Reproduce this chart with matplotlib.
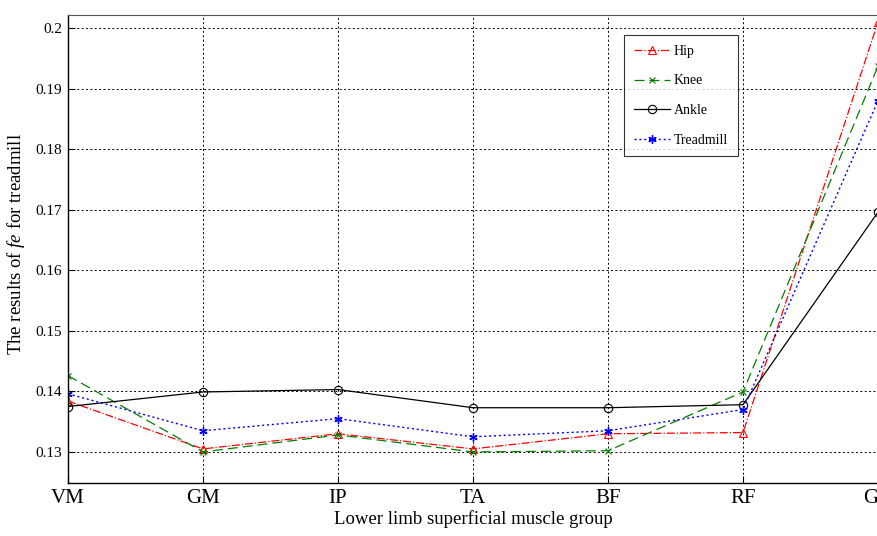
import numpy as np
import matplotlib.pyplot as plt

# muscle groups on the x axis
muscles = ['VM', 'GM', 'IP', 'TA', 'BF', 'RF', 'GC']

# fe values
hip = [0.1384, 0.1305, 0.1330, 0.1305, 0.1330, 0.1332, 0.2010]
knee = [0.1426, 0.1300, 0.1328, 0.1300, 0.1302, 0.1399, 0.1937]
ankle = [0.1375, 0.1399, 0.1403, 0.1373, 0.1373, 0.1378, 0.1696]
treadmill = [0.1396, 0.1335, 0.1355, 0.1325, 0.1335, 0.1370, 0.1880]

yticks = [0.13, 0.14, 0.15, 0.16, 0.17, 0.18, 0.19, 0.2]
ytick_labels = ['0.13', '0.14', '0.15', '0.16', '0.17', '0.18', '0.19', '0.2']

plt.rcParams['font.family'] = ['Liberation Serif', 'DejaVu Serif']
plt.rcParams['mathtext.fontset'] = 'custom'
plt.rcParams['mathtext.it'] = 'Liberation Serif:italic'
plt.rcParams['mathtext.rm'] = 'Liberation Serif'

fig = plt.figure(figsize=(8.77, 5.36), dpi=100)
ax = fig.add_axes([68 / 877, 53 / 536, 810 / 877, 468 / 536])

x = np.arange(len(muscles))
ax.plot(x, hip, color='red', linestyle='-.', linewidth=0.9, marker='^',
        markersize=6, markerfacecolor='none', markeredgewidth=0.8, label='Hip')
ax.plot(x, knee, color='green', linestyle=(0, (8, 4)), linewidth=0.9, marker='x',
        markersize=4, markeredgewidth=0.8, label='Knee')
ax.plot(x, ankle, color='black', linestyle='-', linewidth=0.9, marker='o',
        markersize=6, markerfacecolor='none', markeredgewidth=0.8, label='Ankle')
ax.plot(x, treadmill, color='blue', linestyle=(0, (1.5, 2)), linewidth=1.0, marker=(6, 2, 0),
        markersize=6, markeredgewidth=1.0, label='Treadmill')

ax.set_xlim(0, 6)
ax.set_ylim(0.12487, 0.20215)
ax.set_xticks(x)
ax.set_xticklabels(muscles, fontsize=15)
ax.set_yticks(yticks)
ax.set_yticklabels(ytick_labels, fontsize=11)
ax.tick_params(direction='in', length=5, width=0.8, pad=4)
ax.tick_params(axis='x', pad=4)

ax.grid(True, color='black', linestyle=(0, (2, 2.5)), linewidth=0.7)
for s in ['left', 'bottom']:
    ax.spines[s].set_linewidth(1.0)
ax.spines['top'].set_color('#555555')
ax.spines['right'].set_visible(False)

ax.set_xlabel('Lower limb superficial muscle group', fontsize=13.5)
ax.xaxis.set_label_coords(405 / 810, -(510 - 483) / 468)
ax.set_ylabel('The results of $fe$ for treadmill', fontsize=13.5)
ax.yaxis.set_label_coords(-(68 - 27) / 810, (483 - 244) / 468)

leg = ax.legend(loc='upper left', bbox_to_anchor=(556 / 810, 1 - 20 / 468),
                borderaxespad=0, fontsize=10, frameon=True, fancybox=False,
                edgecolor='black', borderpad=0.7, labelspacing=1.2,
                handlelength=2.6, handletextpad=0.3)
leg.get_frame().set_linewidth(0.8)

plt.savefig('out.png', dpi=100)
